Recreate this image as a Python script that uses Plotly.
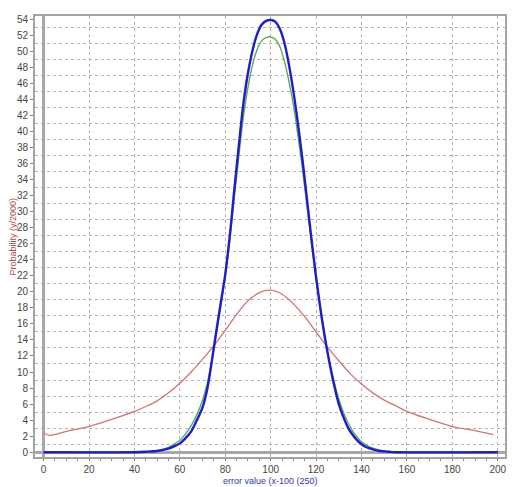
import plotly.graph_objects as go

# ---- data ----
red_x = [0, 3, 10, 20, 30, 40, 45, 50, 55, 60, 65, 70, 75, 80, 85, 90, 95, 100, 105, 110, 115, 120, 125, 130, 135, 140, 145, 150, 155, 160, 170, 180, 190, 198]
red_y = [2.4, 2.1, 2.6, 3.2, 4.1, 5.1, 5.7, 6.4, 7.4, 8.6, 10.0, 11.6, 13.3, 15.2, 17.2, 18.9, 19.9, 20.2, 19.7, 18.5, 16.9, 15.0, 13.1, 11.4, 9.8, 8.5, 7.4, 6.5, 5.8, 5.1, 4.1, 3.2, 2.7, 2.2]

green_x = [0, 40, 45, 50, 55, 58, 60, 62, 65, 68, 70, 72, 74, 76, 78, 80, 82, 84, 86, 88, 90, 92, 94, 96, 98, 100,
           102, 104, 106, 108, 110, 112, 114, 116, 118, 120, 122, 124, 126, 128, 130, 132, 134, 136, 138, 140, 142, 145, 148, 152, 158, 165, 200]
green_y = [0, 0, 0.05, 0.2, 0.6, 1.1, 1.5, 2.1, 3.3, 5.0, 6.5, 8.5, 11.3, 14.6, 18.2, 22.0, 26.5, 31.8, 37.0, 41.8, 45.5, 48.3, 50.2, 51.3, 51.7, 51.8,
           51.5, 50.6, 48.8, 46.3, 43.3, 39.5, 35.3, 30.7, 26.0, 21.6, 17.6, 14.2, 11.2, 8.7, 6.6, 5.0, 3.7, 2.7, 1.9, 1.3, 0.9, 0.5, 0.25, 0.1, 0.02, 0, 0]

blue_x = [0, 40, 45, 50, 55, 58, 60, 62, 65, 68, 70, 72, 74, 76, 78, 80, 82, 84, 86, 88, 90, 92, 94, 96, 98, 100,
          102, 104, 106, 108, 110, 112, 114, 116, 118, 120, 122, 124, 126, 128, 130, 132, 134, 136, 138, 140, 142, 145, 148, 152, 155, 200]
blue_y = [0, 0, 0.05, 0.15, 0.45, 0.8, 1.1, 1.6, 2.6, 4.3, 5.6, 7.8, 11.2, 15.0, 18.6, 22.2, 27.0, 32.8, 38.3, 43.5, 47.3, 50.1, 52.1, 53.3, 53.8, 53.9,
          53.7, 52.8, 51.1, 48.4, 45.0, 41.0, 36.5, 31.5, 26.5, 21.8, 17.7, 14.1, 11.0, 8.3, 6.0, 4.4, 3.1, 2.2, 1.5, 1.0, 0.65, 0.35, 0.15, 0.05, 0, 0]

x_ticks = list(range(0, 201, 20))
y_ticks = list(range(0, 55, 2))
y_grid = list(range(1, 55, 2))

x_title = "error value (x-100 (250)"
y_title = "Probability (y/2000)"

fig = go.Figure()
fig.add_trace(go.Scatter(x=red_x, y=red_y, mode="lines", line=dict(color="#d27272", width=1.3), line_shape="spline"))
fig.add_trace(go.Scatter(x=green_x, y=green_y, mode="lines", line=dict(color="#5aa85a", width=1.4), line_shape="spline"))
fig.add_trace(go.Scatter(x=blue_x, y=blue_y, mode="lines", line=dict(color="#1e1ec8", width=2.4), line_shape="spline"))

tickfont = dict(family="Liberation Sans, Arial, sans-serif", size=10, color="#454545")

fig.update_layout(
    width=524, height=487,
    margin=dict(l=35, r=19, t=16, b=24),
    paper_bgcolor="white", plot_bgcolor="white",
    showlegend=False,
    xaxis=dict(
        range=[-3.8, 203.2], tickvals=x_ticks, ticktext=[str(v) for v in x_ticks],
        showgrid=True, gridcolor="#b4b4b4", griddash="3px,3px", gridwidth=1,
        zeroline=True, zerolinecolor="#a8a8a8", zerolinewidth=3,
        showline=True, mirror=True, linecolor="#a4a4a4", linewidth=2,
        ticks="outside", ticklen=2, tickcolor="#808080", tickfont=tickfont,
        minor=dict(dtick=5, tick0=0, ticks="outside", ticklen=2, tickcolor="#909090", showgrid=False),
        fixedrange=True,
    ),
    yaxis=dict(
        range=[-0.6, 54.4], tickvals=y_ticks, ticktext=[str(v) for v in y_ticks],
        showgrid=False,
        zeroline=True, zerolinecolor="#a8a8a8", zerolinewidth=3,
        showline=True, mirror=True, linecolor="#a4a4a4", linewidth=2,
        ticks="outside", ticklen=3, tickcolor="#808080", tickfont=tickfont,
        minor=dict(tickvals=y_grid, showgrid=True, gridcolor="#b4b4b4", griddash="3px,3px", gridwidth=1, ticks=""),
        fixedrange=True,
    ),
    annotations=[
        dict(text=x_title, xref="paper", yref="paper", x=0.5, y=0, yshift=-24, xanchor="center", yanchor="middle",
             showarrow=False, font=dict(family="Liberation Sans, Arial, sans-serif", size=9, color="#3838a0")),
        dict(text=y_title, xref="paper", yref="paper", x=0, y=0.5, xshift=-23, xanchor="center", yanchor="middle",
             textangle=-90, showarrow=False, font=dict(family="Liberation Sans, Arial, sans-serif", size=9, color="#b04848")),
    ],
)

fig.write_html("out.html")
